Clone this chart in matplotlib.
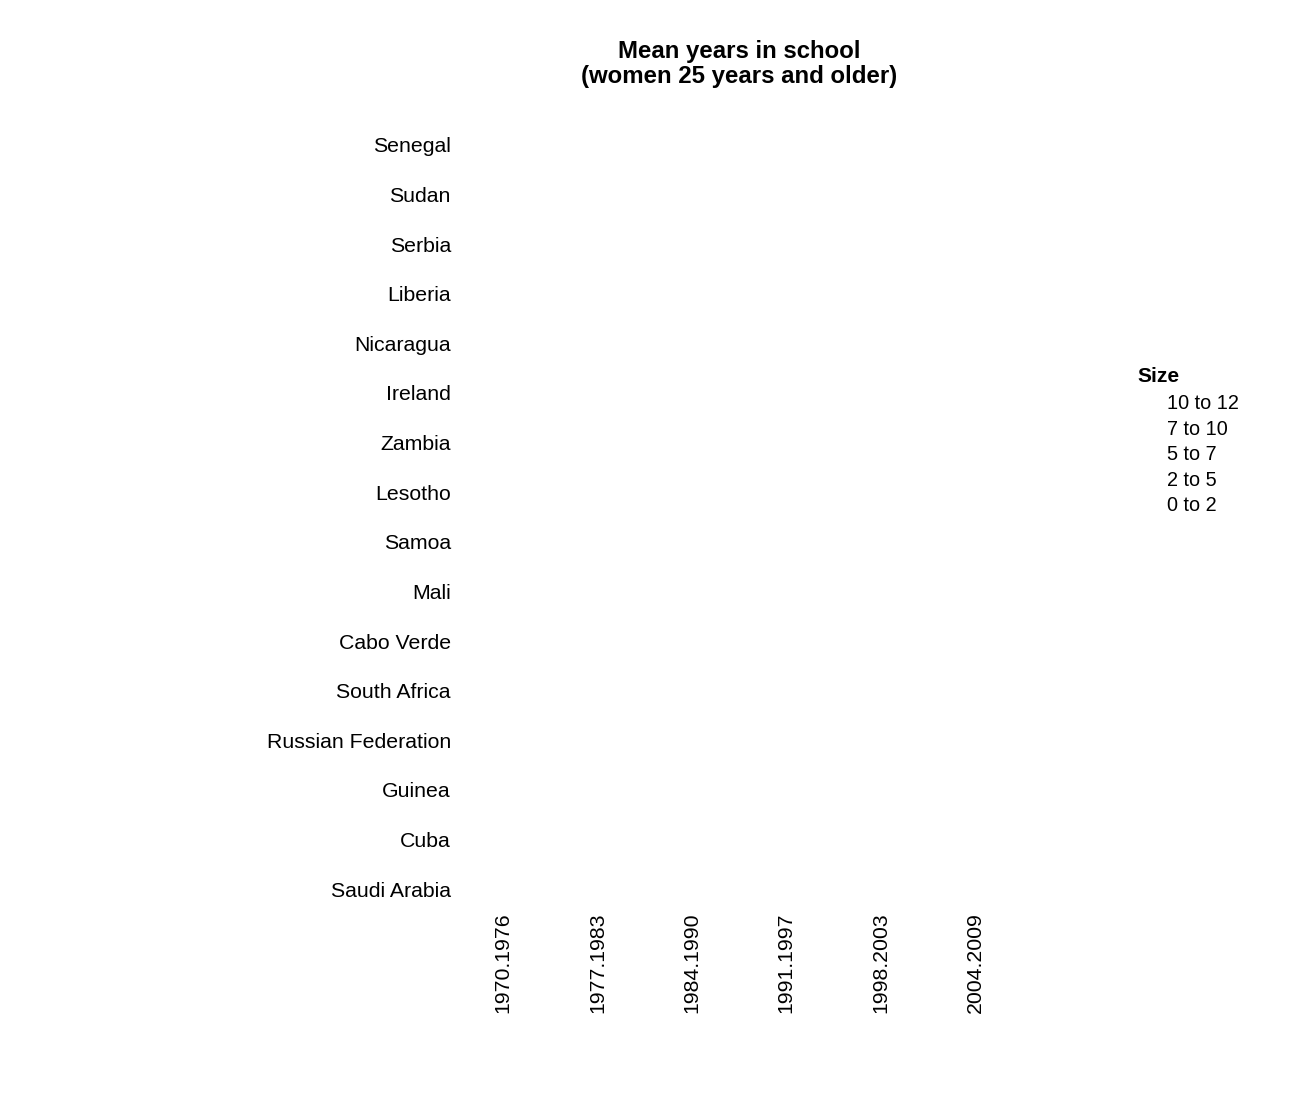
import numpy as np
import pandas as pd
import matplotlib
matplotlib.use('Agg')
import matplotlib.pyplot as plt
from matplotlib.lines import Line2D

plt.rcParams['font.family'] = ['Liberation Sans', 'DejaVu Sans']

# countries, top to bottom
countries = ['Senegal', 'Sudan', 'Serbia', 'Liberia', 'Nicaragua', 'Ireland',
             'Zambia', 'Lesotho', 'Samoa', 'Mali', 'Cabo Verde', 'South Africa',
             'Russian Federation', 'Guinea', 'Cuba', 'Saudi Arabia']
periods = ['1970.1976', '1977.1983', '1984.1990', '1991.1997', '1998.2003', '2004.2009']
size_bins = [0, 2, 5, 7, 10, 12]
size_labels = ['10 to 12', '7 to 10', '5 to 7', '2 to 5', '0 to 2']

# no balloons are shown in the chart, so every cell is missing
nan = np.nan
mean_years = [
    [nan, nan, nan, nan, nan, nan],  # Senegal
    [nan, nan, nan, nan, nan, nan],  # Sudan
    [nan, nan, nan, nan, nan, nan],  # Serbia
    [nan, nan, nan, nan, nan, nan],  # Liberia
    [nan, nan, nan, nan, nan, nan],  # Nicaragua
    [nan, nan, nan, nan, nan, nan],  # Ireland
    [nan, nan, nan, nan, nan, nan],  # Zambia
    [nan, nan, nan, nan, nan, nan],  # Lesotho
    [nan, nan, nan, nan, nan, nan],  # Samoa
    [nan, nan, nan, nan, nan, nan],  # Mali
    [nan, nan, nan, nan, nan, nan],  # Cabo Verde
    [nan, nan, nan, nan, nan, nan],  # South Africa
    [nan, nan, nan, nan, nan, nan],  # Russian Federation
    [nan, nan, nan, nan, nan, nan],  # Guinea
    [nan, nan, nan, nan, nan, nan],  # Cuba
    [nan, nan, nan, nan, nan, nan],  # Saudi Arabia
]

df = pd.DataFrame(mean_years, index=countries, columns=periods)
long = df.reset_index().melt(id_vars='index', var_name='period', value_name='years')
long['x'] = long['period'].map({p: i + 1 for i, p in enumerate(periods)})
long['y'] = long['index'].map({c: len(countries) - i for i, c in enumerate(countries)})
long['bin'] = pd.cut(long['years'], size_bins, include_lowest=True, labels=False)

fig = plt.figure(figsize=(13, 11), dpi=100)
W, H = 1300, 1100
left, right, top, bottom = 455, 1023, 123, 911
ax = fig.add_axes([left / W, 1 - bottom / H, (right - left) / W, (bottom - top) / H])

ax.scatter(long['x'], long['y'], s=(long['bin'] + 1) * 60, color='black')

ax.set_xlim(0.49, 6.51)
ax.set_ylim(0.56, 16.44)
ax.set_xticks(range(1, len(periods) + 1))
ax.set_xticklabels(periods, rotation=90, fontsize=15.3)
ax.set_yticks(range(len(countries), 0, -1))
ax.set_yticklabels(countries, fontsize=15.3)
ax.tick_params(axis='y', length=0, pad=3)
ax.tick_params(axis='x', length=0, pad=1)
for s in ax.spines.values():
    s.set_visible(False)

ax.set_title('Mean years in school\n(women 25 years and older)', fontsize=17.3,
             fontweight='bold', linespacing=1.12, pad=29)

handles = [Line2D([], [], linestyle='none', marker='none') for _ in size_labels]
leg = fig.legend(handles, size_labels, title='Size', loc='upper left',
                 bbox_to_anchor=(1127 / W, 1 - 357 / H), frameon=False,
                 fontsize=14.3, title_fontproperties={'weight': 'bold', 'size': 15.1},
                 alignment='left', handlelength=1.0, handletextpad=0.5,
                 borderpad=0, labelspacing=0.33)
leg._legend_box.sep = 6

fig.savefig('out.png', dpi=100)
